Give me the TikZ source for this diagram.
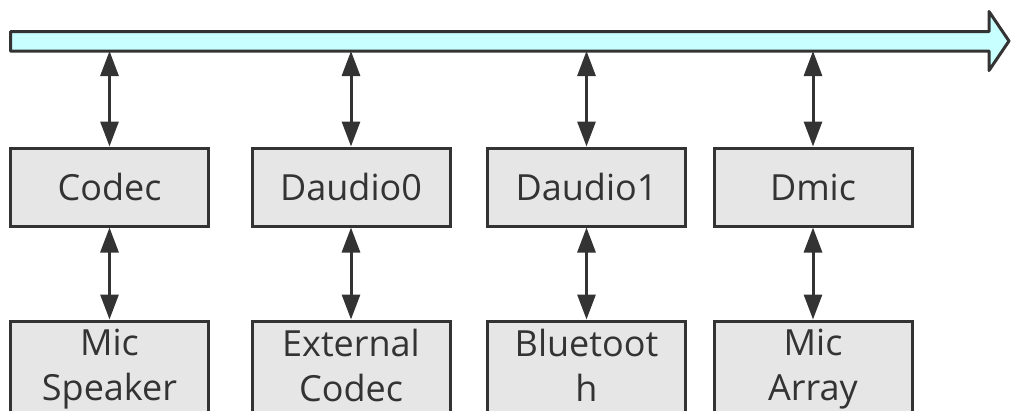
\documentclass[tikz,border=0pt]{standalone}
\usepackage{fontspec}
\setmainfont{Open Sans}
\usetikzlibrary{arrows.meta}
\definecolor{buscyan}{HTML}{C8FFFF}
\definecolor{boxgray}{HTML}{E6E6E6}
\definecolor{inkdark}{HTML}{333333}
\tikzset{
  blk/.style={draw=inkdark,fill=boxgray,line width=3pt,minimum width=198pt,minimum height=78pt,
    text=inkdark,font=\fontsize{36}{45}\selectfont,align=center,inner sep=0pt},
  dev/.style={blk,minimum height=101.4pt,anchor=north,execute at begin node=\strut,execute at end node=\strut},
  link/.style={{Triangle[length=25pt,width=18pt]}-{Triangle[length=25pt,width=18pt]},line width=3pt,draw=inkdark},
}
\begin{document}
\begin{tikzpicture}[x=1pt,y=-1pt]
  \useasboundingbox (0,0) rectangle (1012,410);
  % bus
  \draw[fill=buscyan,draw=inkdark,line width=3pt,line join=round] (10.5,31.5) -- (989,31.5) -- (989,11.5) -- (1009,41) -- (989,70.5) -- (989,51) -- (10.5,51) -- cycle;
  \coordinate (busbot) at (0,51);
  % controllers
  \node[blk] (codec) at (109.5,187) {Codec};
  \node[blk] (daudio0) at (351,187) {Daudio0};
  \node[blk] (daudio1) at (586.5,187) {Daudio1};
  \node[blk] (dmic) at (813,187) {Dmic};
  % devices
  \node[dev] (micspk) at (109.5,319.5) {Mic\\Speaker};
  \node[dev] (extcodec) at (351,319.5) {External\\Codec};
  \node[dev] (bt) at (586.5,319.5) {Bluetoot\\h};
  \node[dev] (micarray) at (813,319.5) {Mic\\Array};
  % links
  \draw[link] (codec.north) -- (codec.north |- busbot);
  \draw[link] (daudio0.north) -- (daudio0.north |- busbot);
  \draw[link] (daudio1.north) -- (daudio1.north |- busbot);
  \draw[link] (dmic.north) -- (dmic.north |- busbot);
  \draw[link] (codec.south) -- (micspk.north);
  \draw[link] (daudio0.south) -- (extcodec.north);
  \draw[link] (daudio1.south) -- (bt.north);
  \draw[link] (dmic.south) -- (micarray.north);
\end{tikzpicture}
\end{document}
